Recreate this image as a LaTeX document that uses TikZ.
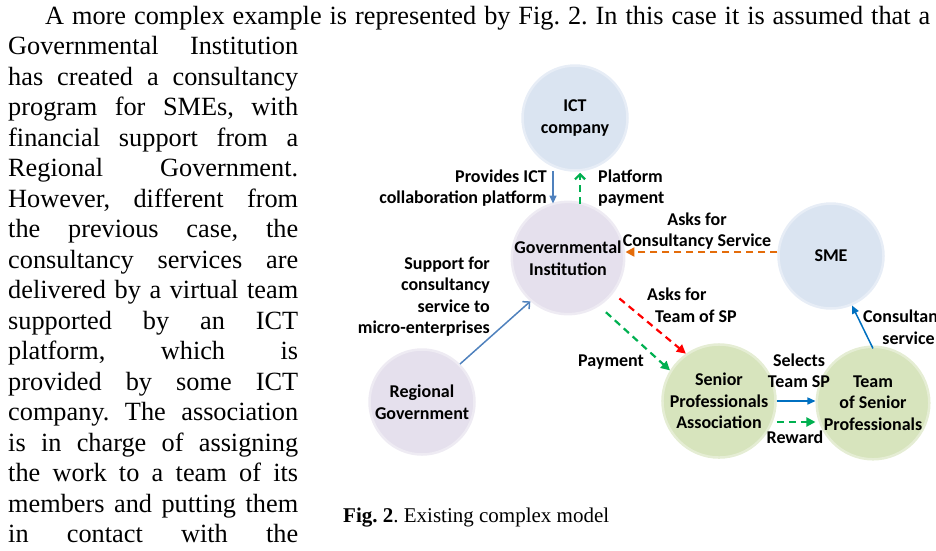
\documentclass[tikz,border=0pt]{standalone}
\usepackage{fontspec}
\setmainfont{Liberation Serif}
\newfontfamily\lab{Carlito}
\usetikzlibrary{arrows.meta,calc}
\frenchspacing
\definecolor{cblue}{RGB}{218,228,241}
\definecolor{clav}{RGB}{229,224,237}
\definecolor{cgreen}{RGB}{215,228,189}
\definecolor{ablue}{RGB}{79,129,189}
\definecolor{ablue2}{RGB}{0,112,192}
\definecolor{agreen}{RGB}{0,176,80}
\definecolor{ared}{RGB}{255,0,0}
\definecolor{aorange}{RGB}{228,108,10}
\tikzset{
  circ/.style={circle, minimum size=105pt, inner sep=0pt, line width=2.5pt,
    font=\lab\bfseries\fontsize{18}{21.5}\selectfont, align=center, text=black},
  bluec/.style={circ, fill=cblue, draw=cblue!65!white},
  lavc/.style={circ, fill=clav, draw=clav!65!white},
  greenc/.style={circ, fill=cgreen, draw=cgreen!65!white},
  lbl/.style={font=\lab\bfseries\fontsize{18}{21.5}\selectfont, inner sep=0pt, text=black},
  body/.style={font=\frenchspacing\fontsize{26.3}{30.5}\selectfont, inner sep=0pt, anchor=base west},
  solidarr/.style={line width=1.5pt, -{Triangle[length=8pt,width=7pt]}},
  openarr/.style={line width=1.5pt, -{Straight Barb[length=5pt,width=10pt]}},
  dasharr/.style={line width=2.2pt, dash pattern=on 7pt off 5pt, -{Triangle[length=9pt,width=9pt]}},
}
\begin{document}
\begin{tikzpicture}[x=1pt,y=-1pt]
\useasboundingbox (0,0) rectangle (936,550);
\clip (0,0) rectangle (936,550);
% body text
\node[body] (t0) at (45,24) {\makebox[885pt][s]{A more complex example is represented by Fig. 2. In this case it is assumed that a}};
\node[body] (t1) at (8,54.5) {\makebox[290pt][s]{Governmental Institution}};
\node[body] (t2) at (8,85) {\makebox[290pt][s]{has created a consultancy}};
\node[body] (t3) at (8,115.5) {\makebox[290pt][s]{program for SMEs, with}};
\node[body] (t4) at (8,146) {\makebox[290pt][s]{financial support from a}};
\node[body] (t5) at (8,176.5) {\makebox[290pt][s]{Regional Government.}};
\node[body] (t6) at (8,207) {\makebox[290pt][s]{However, different from}};
\node[body] (t7) at (8,237.5) {\makebox[290pt][s]{the previous case, the}};
\node[body] (t8) at (8,268) {\makebox[290pt][s]{consultancy services are}};
\node[body] (t9) at (8,298.5) {\makebox[290pt][s]{delivered by a virtual team}};
\node[body] (t10) at (8,329) {\makebox[290pt][s]{supported by an ICT}};
\node[body] (t11) at (8,359.5) {\makebox[290pt][s]{platform, which is}};
\node[body] (t12) at (8,390) {\makebox[290pt][s]{provided by some ICT}};
\node[body] (t13) at (8,420.5) {\makebox[290pt][s]{company. The association}};
\node[body] (t14) at (8,451) {\makebox[290pt][s]{is in charge of assigning}};
\node[body] (t15) at (8,481.5) {\makebox[290pt][s]{the work to a team of its}};
\node[body] (t16) at (8,512) {\makebox[290pt][s]{members and putting them}};
\node[body] (t17) at (8,542.5) {\makebox[290pt][s]{in contact with the}};
% caption
\node[font=\fontsize{21}{25}\selectfont, inner sep=0pt, anchor=base west] (cap) at (343,522) {\textbf{Fig. 2}. Existing complex model};
% circles
\node[bluec] (ict) at (575,118) {ICT\\company};
\node[lavc] (gov) at (568,258) {Governmental\\Institution};
\node[bluec] (sme) at (831,256) {SME};
\node[lavc] (reg) at (422,402) {Regional\\Government};
\node[greenc] (spa) at (719,401) {Senior\\Professionals\\Association};
\node[greenc] (team) at (873,403) {Team\\of Senior\\Professionals};
% connectors
\draw[solidarr, ablue] ([xshift=-22pt,yshift=1pt]ict.south) -- ([xshift=-15pt,yshift=-3pt]gov.north);
\draw[openarr, agreen, dash pattern=on 7pt off 5pt, line width=2.2pt] ([xshift=12pt,yshift=-3pt]gov.north) -- ([xshift=5pt,yshift=-1pt]ict.south);
\draw[dasharr, aorange] ([yshift=4pt]sme.west) -- ([yshift=6pt]gov.east);
\draw[openarr, ablue] (reg.45) -- (gov.-131);
\draw[dasharr, ared, shorten <=8pt] (gov.-38) -- (spa.125);
\draw[dasharr, agreen, shorten <=9pt] (gov.-57) -- (spa.148);
\draw[solidarr, ablue2] (spa.east) -- (spa.east -| team.west);
\draw[dasharr, agreen, line width=2pt] ([yshift=-21pt]spa.east) -- ([yshift=-21pt]spa.east -| team.west);
\draw[solidarr, ablue2] ([yshift=-3pt]team.north) -- (sme.-67);
% labels
\node[lbl, align=right, anchor=east] (l1) at (547,188) {Provides ICT\\collaboration platform};
\node[lbl, align=left, anchor=west] (l2) at (598,188) {Platform\\payment};
\node[lbl, align=center] (l3) at (697,231) {Asks for\\Consultancy Service};
\node[lbl, align=right, anchor=east] (l4) at (490,296.5) {Support for\\consultancy\\service to\\micro-enterprises};
\node[lbl, align=left, anchor=west] (l5) at (647,305) {Asks for\\\hspace*{8pt}Team of SP};
\node[lbl, anchor=west] (l6) at (578,362) {Payment};
\node[lbl, align=center] (l7) at (799,370.5) {Selects\\Team SP};
\node[lbl] (l8) at (795,437) {Reward};
\node[lbl, align=center, anchor=west] (l9) at (863,327) {Consultancy\\service};
\end{tikzpicture}
\end{document}
